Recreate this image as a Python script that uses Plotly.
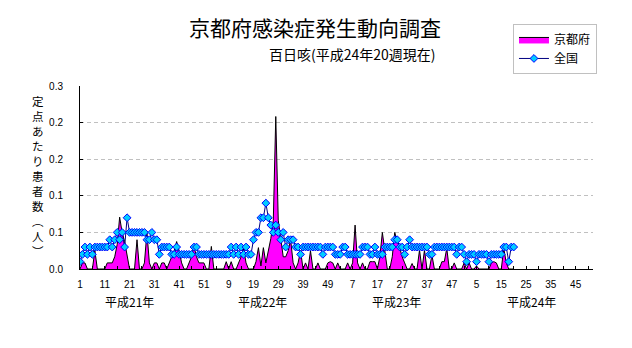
import plotly.graph_objects as go

# Weekly pertussis reports per sentinel site, H21 week 1 .. H24 week 20
years = ["平成21年", "平成22年", "平成23年", "平成24年"]
weeks_per_year = 52

kyoto_h21 = [0, 0.01, 0.01, 0, 0, 0, 0.03, 0, 0, 0,
             0, 0.01, 0.01, 0.01, 0.02, 0.04, 0.085, 0.06, 0.045, 0.02,
             0, 0, 0, 0.048, 0, 0, 0.01, 0.06, 0.01, 0,
             0.01, 0.01, 0, 0.01, 0.01, 0, 0.01, 0.02, 0.03, 0.045,
             0.03, 0.01, 0, 0, 0.01, 0.02, 0.037, 0.02, 0.01, 0.01,
             0.01, 0]
kyoto_h22 = [0, 0.037, 0, 0, 0, 0, 0, 0.012, 0, 0.012,
             0, 0, 0.01, 0.02, 0.034, 0.01, 0, 0, 0, 0.012,
             0.035, 0.005, 0.035, 0.01, 0.03, 0.05, 0.08, 0.25, 0.08, 0.05,
             0.02, 0.02, 0.03, 0.048, 0.01, 0, 0.01, 0.03, 0, 0.01,
             0, 0.03, 0, 0, 0.01, 0, 0, 0, 0.01, 0.012,
             0.01, 0]
kyoto_h23 = [0.01, 0, 0, 0, 0.01, 0, 0.01, 0.072, 0.01, 0,
             0.01, 0, 0, 0.012, 0.012, 0.012, 0, 0.02, 0.06, 0.03,
             0, 0, 0.02, 0.06, 0.045, 0.035, 0.02, 0.01, 0, 0,
             0.009, 0, 0, 0.031, 0, 0.031, 0, 0, 0.023, 0,
             0, 0, 0.012, 0.012, 0.034, 0, 0, 0.01, 0, 0,
             0, 0.01]
kyoto_h24 = [0, 0.01, 0, 0, 0.005, 0, 0, 0, 0, 0,
             0.01, 0.012, 0.01, 0, 0, 0.034, 0.01, 0, 0, 0]

national_h21 = [0.012, 0.024, 0.036, 0.024, 0.036, 0.024, 0.036, 0.036, 0.036, 0.036,
                0.036, 0.036, 0.048, 0.036, 0.048, 0.06, 0.048, 0.06, 0.036, 0.084,
                0.06, 0.06, 0.06, 0.06, 0.06, 0.06, 0.06, 0.048, 0.048, 0.06,
                0.048, 0.048, 0.024, 0.036, 0.036, 0.036, 0.036, 0.024, 0.024, 0.036,
                0.024, 0.024, 0.024, 0.024, 0.024, 0.024, 0.036, 0.036, 0.024, 0.024,
                0.024, 0.024]
national_h22 = [0.024, 0.024, 0.024, 0.024, 0.024, 0.024, 0.024, 0.024, 0.024, 0.036,
                0.024, 0.036, 0.024, 0.036, 0.024, 0.036, 0.024, 0.024, 0.048, 0.06,
                0.06, 0.084, 0.084, 0.108, 0.084, 0.072, 0.06, 0.072, 0.06, 0.048,
                0.06, 0.036, 0.048, 0.048, 0.048, 0.036, 0.036, 0.024, 0.036, 0.036,
                0.036, 0.036, 0.036, 0.036, 0.036, 0.036, 0.024, 0.036, 0.036, 0.036,
                0.036, 0.024]
national_h23 = [0.024, 0.024, 0.036, 0.036, 0.024, 0.024, 0.024, 0.024, 0.024, 0.024,
                0.036, 0.036, 0.036, 0.024, 0.024, 0.036, 0.024, 0.024, 0.024, 0.036,
                0.036, 0.036, 0.036, 0.048, 0.048, 0.036, 0.036, 0.024, 0.036, 0.048,
                0.036, 0.036, 0.036, 0.036, 0.036, 0.036, 0.036, 0.024, 0.024, 0.036,
                0.036, 0.036, 0.036, 0.036, 0.036, 0.036, 0.036, 0.036, 0.024, 0.036,
                0.036, 0.024]
national_h24 = [0.012, 0.024, 0.024, 0.024, 0.012, 0.024, 0.024, 0.024, 0.024, 0.012,
                0.024, 0.024, 0.024, 0.024, 0.024, 0.036, 0.036, 0.012, 0.036, 0.036]

week_labels = ["1", "11", "21", "31", "41", "51", "9", "19", "29", "39", "49",
               "7", "17", "27", "37", "47", "5", "15", "25", "35", "45"]

kyoto = kyoto_h21 + kyoto_h22 + kyoto_h23 + kyoto_h24
national = national_h21 + national_h22 + national_h23 + national_h24
weeks = list(range(len(kyoto)))
total_weeks = weeks_per_year * len(years)

jp = "Noto Sans CJK JP"
num = "Liberation Sans"

fig = go.Figure()
fig.add_trace(go.Scatter(
    x=weeks, y=kyoto, name="京都府", mode="lines",
    fill="tozeroy", fillcolor="#FF00FF",
    line=dict(color="black", width=1),
))
fig.add_trace(go.Scatter(
    x=weeks, y=national, name="全国", mode="lines+markers",
    line=dict(color="#000080", width=1),
    marker=dict(symbol="diamond", size=6, color="#00CCFF",
                line=dict(color="#0000FF", width=1)),
))

fig.update_xaxes(
    range=[0, total_weeks - 1],
    tickmode="array",
    tickvals=list(range(0, total_weeks, 10))[:len(week_labels)],
    ticktext=week_labels,
    ticks="inside", ticklen=3, tickcolor="black",
    minor=dict(ticks="inside", tick0=0, dtick=5, ticklen=3, tickcolor="black"),
    showline=True, linecolor="black", linewidth=1,
    showgrid=False, zeroline=False,
    tickfont=dict(family=num, size=10, color="black"),
    ticklabelstandoff=6,
)
fig.update_yaxes(
    range=[0, 0.30001], tick0=0, dtick=0.06, tickformat=".1f",
    ticks="inside", ticklen=3, tickcolor="black",
    showline=True, linecolor="black", linewidth=1,
    showgrid=True, gridcolor="#c0c0c0", griddash="4px,3px", gridwidth=1,
    zeroline=False,
    tickfont=dict(family=num, size=10, color="black"),
    ticklabelstandoff=14,
)

# year captions beneath the week labels
year_label_x = [20.1, 73.7, 127.7, 182.2]
annotations = [
    dict(x=xp, y=-0.175, xref="x", yref="paper", xanchor="center", yanchor="middle",
         text=yr, showarrow=False, font=dict(family=jp, size=12, color="black"))
    for xp, yr in zip(year_label_x, years)
]
annotations += [
    dict(x=0.458, y=1.3197, xref="paper", yref="paper", xanchor="center", yanchor="middle",
         text="京都府感染症発生動向調査", showarrow=False,
         font=dict(family=jp, size=21, color="black")),
    dict(x=0.698, y=1.175, xref="paper", yref="paper", xanchor="right", yanchor="middle",
         text="百日咳(平成24年20週現在)", showarrow=False,
         font=dict(family=jp, size=14, color="black")),
    dict(x=-0.0828, y=0.508, xref="paper", yref="paper", xanchor="center", yanchor="middle",
         text="<br>".join(list("定点あたり患者数") + ["︵", "人", "︶"]),
         showarrow=False, font=dict(family=jp, size=11.5, color="black")),
]

fig.update_layout(
    width=632, height=348,
    margin=dict(l=80, r=39, t=86, b=79),
    paper_bgcolor="white", plot_bgcolor="white",
    showlegend=True,
    legend=dict(x=0.844, y=1.339, xanchor="left", yanchor="top",
                bordercolor="#c0c0c0", borderwidth=1, bgcolor="white",
                font=dict(family=jp, size=12, color="black"),
                itemwidth=30, tracegroupgap=0),
    annotations=annotations,
)

fig.write_html("out.html")
